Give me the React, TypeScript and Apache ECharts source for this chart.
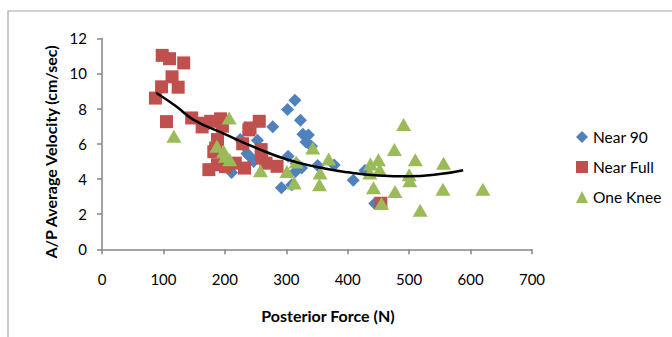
import React, { useEffect, useRef } from "react";
import * as echarts from "echarts";

const near90X = [314, 302, 323, 278, 327, 336, 332, 253, 225, 341, 236, 240, 247, 303, 316, 325, 351, 378, 315, 211, 292, 309, 409, 428, 444, 230];
const near90Y = [8.48, 7.95, 7.34, 6.97, 6.55, 6.5, 6.1, 6.2, 6.24, 5.86, 5.45, 5.29, 5.0, 5.29, 4.9, 4.62, 4.77, 4.8, 4.43, 4.37, 3.5, 3.67, 3.93, 4.48, 2.6, 5.93];

const nearFullX = [98, 110, 133, 114, 97, 124, 87, 105, 146, 163, 177, 193, 196, 241, 256, 229, 188, 185, 259, 260, 174, 188, 217, 232, 267, 285, 454, 165, 239, 182, 201];
const nearFullY = [11.03, 10.84, 10.6, 9.81, 9.24, 9.22, 8.6, 7.26, 7.47, 6.96, 7.28, 7.42, 7.0, 6.9, 7.28, 6.0, 6.24, 5.76, 5.67, 5.19, 4.53, 4.81, 4.9, 4.62, 4.9, 4.72, 2.62, 7.17, 6.79, 5.55, 4.7];

const oneKneeX = [207, 117, 187, 198, 201, 208, 258, 301, 316, 313, 343, 369, 355, 354, 437, 450, 436, 442, 452, 455, 476, 491, 477, 510, 500, 501, 518, 556, 555, 620];
const oneKneeY = [7.47, 6.43, 5.86, 5.57, 5.29, 5.1, 4.47, 4.43, 4.96, 3.77, 5.76, 5.13, 4.34, 3.67, 4.85, 5.1, 4.34, 3.5, 4.53, 2.6, 5.67, 7.1, 3.29, 5.1, 4.24, 3.9, 2.22, 4.9, 3.42, 3.42];

const trendX = [88, 120, 150, 200, 250, 300, 350, 400, 450, 500, 550, 588];
const trendY = [8.9, 8.15, 7.35, 6.55, 5.78, 5.12, 4.68, 4.38, 4.2, 4.15, 4.28, 4.5];

const seriesNames = ["Near 90", "Near Full", "One Knee"];
const xTitle = "Posterior Force (N)";
const yTitle = "A/P Average Velocity (cm/sec)";

const zip = (xs: number[], ys: number[]) => xs.map((x, i) => [x, ys[i]]);

export default function App() {
  const ref = useRef<HTMLDivElement>(null);
  useEffect(() => {
    if (!ref.current) return;
    const chart = echarts.init(ref.current, undefined, { renderer: "svg" });
    const font = "Lato, 'Open Sans', sans-serif";
    const axisColor = "#868686";
    chart.setOption({
      animation: false,
      backgroundColor: "#ffffff",
      grid: { left: 102, top: 38.3, width: 430, height: 211, containLabel: false },
      xAxis: {
        type: "value",
        min: 0,
        max: 700,
        interval: 100,
        axisLine: { show: true, onZero: false, lineStyle: { color: axisColor, width: 1.5 } },
        axisTick: { show: true, length: 5, lineStyle: { color: axisColor, width: 1.5 } },
        axisLabel: { color: "#000", fontFamily: font, fontSize: 15, margin: 22 },
        splitLine: { show: false },
      },
      yAxis: {
        type: "value",
        min: 0,
        max: 12,
        interval: 2,
        axisLine: { show: true, onZero: false, lineStyle: { color: axisColor, width: 1.5 } },
        axisTick: { show: true, length: 5, lineStyle: { color: axisColor, width: 1.5 } },
        axisLabel: { color: "#000", fontFamily: font, fontSize: 15, margin: 15 },
        splitLine: { show: false },
      },
      legend: {
        orient: "vertical",
        left: 571,
        top: 124,
        itemWidth: 12,
        itemHeight: 12,
        itemGap: 14,
        textStyle: { fontFamily: font, fontSize: 15.5, color: "#000" },
        data: [
          { name: seriesNames[0], icon: "diamond" },
          { name: seriesNames[1], icon: "rect" },
          { name: seriesNames[2], icon: "triangle" },
        ],
      },
      graphic: [
        {
          type: "rect",
          shape: { x: 8, y: 11, width: 720, height: 400 },
          style: { fill: "none", stroke: "#a6a6a6", lineWidth: 1.2 },
          silent: true,
          z: -1,
        },
        {
          type: "text",
          x: 328,
          y: 315,
          style: { text: xTitle, font: `bold 16px ${font}`, fill: "#000", textAlign: "center", textVerticalAlign: "middle" },
        },
        {
          type: "text",
          x: 50,
          y: 152,
          rotation: Math.PI / 2,
          style: { text: yTitle, font: `bold 16px ${font}`, fill: "#000", textAlign: "center", textVerticalAlign: "middle" },
        },
      ],
      series: [
        {
          name: seriesNames[0],
          type: "scatter",
          symbol: "diamond",
          symbolSize: 13,
          itemStyle: { color: "#4F81BD", opacity: 1 },
          data: zip(near90X, near90Y),
          z: 2,
        },
        {
          name: seriesNames[1],
          type: "scatter",
          symbol: "rect",
          symbolSize: 13,
          itemStyle: { color: "#C0504D", opacity: 1, borderRadius: 2 },
          data: zip(nearFullX, nearFullY),
          z: 3,
        },
        {
          name: seriesNames[2],
          type: "scatter",
          symbol: "triangle",
          symbolSize: [15, 13],
          itemStyle: { color: "#9BBB59", opacity: 1 },
          data: zip(oneKneeX, oneKneeY),
          z: 4,
        },
        {
          name: "Trend",
          type: "line",
          smooth: true,
          showSymbol: false,
          symbol: "none",
          lineStyle: { color: "#000", width: 2.5 },
          data: zip(trendX, trendY),
          z: 5,
          silent: true,
        },
      ],
    });
    return () => chart.dispose();
  }, []);
  return (
    <div
      ref={ref}
      style={{ position: "fixed", left: 0, top: 0, width: 672, height: 337 }}
    />
  );
}
